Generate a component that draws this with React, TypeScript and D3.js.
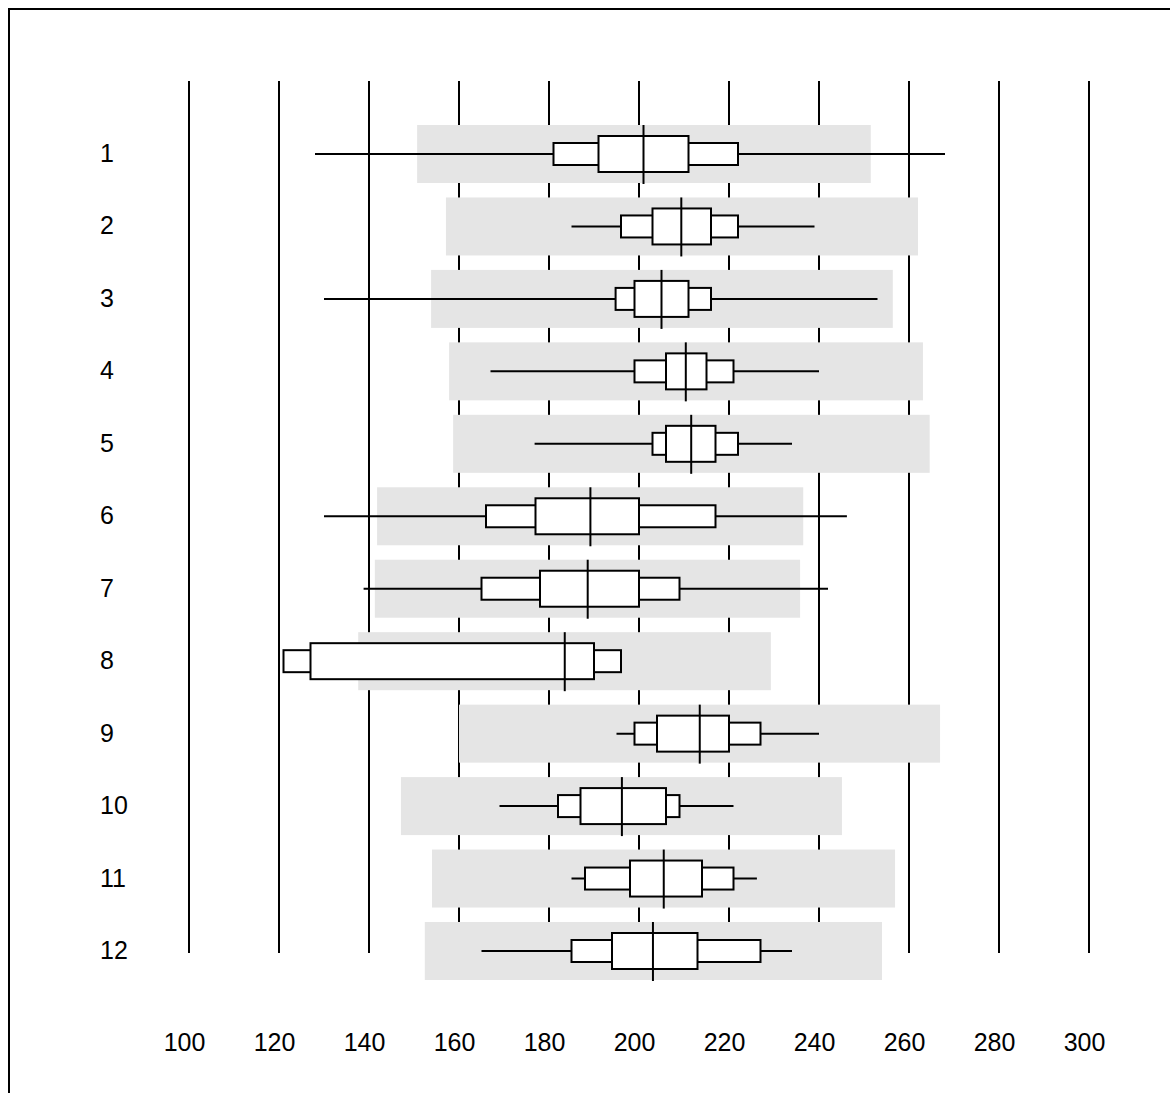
import React, { useEffect, useRef } from "react";
import * as d3 from "d3";

// Row labels and x ticks
const rowLabels = ["1", "2", "3", "4", "5", "6", "7", "8", "9", "10", "11", "12"];
const xTicks = [100, 120, 140, 160, 180, 200, 220, 240, 260, 280, 300];

// per-row values
const whiskerLow = [128, 185, 130, 167, 176.8, 130, 138.8, 121, 195, 169, 185, 165];
const outerLow = [181, 196, 194.8, 199, 203, 166, 165, 121, 199, 182, 188, 185];
const innerLow = [191, 203, 199, 206, 206, 177, 178, 127, 204, 187, 198, 194];
const medians = [201, 209.4, 205, 210.4, 211.6, 189.2, 188.6, 183.5, 213.5, 196.2, 205.5, 203.1];
const innerHigh = [211, 216, 211, 215, 217, 200, 200, 190, 220, 206, 214, 213];
const outerHigh = [222, 222, 216, 221, 222, 217, 209, 196, 227, 209, 221, 227];
const whiskerHigh = [268, 239, 253, 240, 234, 246.2, 242, 196, 240, 221, 226.2, 234];
const bandLow = [150.7, 157.1, 153.8, 157.8, 158.7, 141.8, 141.3, 137.6, 160, 147.1, 154, 152.4];
const bandHigh = [251.5, 262, 256.4, 263.1, 264.6, 236.5, 235.8, 229.3, 266.9, 245.1, 256.9, 254];

export default function App() {
  const ref = useRef<SVGSVGElement | null>(null);

  useEffect(() => {
    const svg = d3.select(ref.current);
    svg.selectAll("*").remove();

    const font = "'Liberation Sans', Arial, sans-serif";
    const rows = rowLabels.map((label, i) => ({
      label,
      wl: whiskerLow[i],
      ol: outerLow[i],
      il: innerLow[i],
      med: medians[i],
      ih: innerHigh[i],
      oh: outerHigh[i],
      wh: whiskerHigh[i],
      bl: bandLow[i],
      bh: bandHigh[i],
    }));

    const x = d3.scaleLinear().domain([100, 300]).range([189, 1089]);
    const y = d3.scalePoint<string>().domain(rowLabels).range([154, 951]);

    const bandH = 58;
    const innerH = 36;
    const outerH = 22;

    // frame (right and bottom edges fall outside the picture)
    svg
      .append("rect")
      .attr("x", 9)
      .attr("y", 9)
      .attr("width", 1300)
      .attr("height", 1300)
      .attr("fill", "none")
      .attr("stroke", "#000")
      .attr("stroke-width", 2);

    // vertical grid
    svg
      .append("g")
      .selectAll("line")
      .data(xTicks)
      .join("line")
      .attr("x1", (d) => x(d))
      .attr("x2", (d) => x(d))
      .attr("y1", 81)
      .attr("y2", 953)
      .attr("stroke", "#000")
      .attr("stroke-width", 2);

    svg
      .append("g")
      .selectAll("text")
      .data(xTicks)
      .join("text")
      .attr("x", (d) => x(d) - 4.5)
      .attr("y", 1050.5)
      .attr("text-anchor", "middle")
      .attr("font-family", font)
      .attr("font-size", 25)
      .text((d) => d);

    svg
      .append("g")
      .selectAll("text")
      .data(rowLabels)
      .join("text")
      .attr("x", 100)
      .attr("y", (d) => y(d)! + 8)
      .attr("font-family", font)
      .attr("font-size", 25)
      .text((d) => d);

    const g = svg.append("g").selectAll("g").data(rows).join("g");

    g.append("rect")
      .attr("x", (d) => x(d.bl))
      .attr("y", (d) => y(d.label)! - bandH / 2)
      .attr("width", (d) => x(d.bh) - x(d.bl))
      .attr("height", bandH)
      .attr("fill", "#e5e5e5");

    g.append("line")
      .attr("x1", (d) => x(d.wl))
      .attr("x2", (d) => x(d.wh))
      .attr("y1", (d) => y(d.label)!)
      .attr("y2", (d) => y(d.label)!)
      .attr("stroke", "#000")
      .attr("stroke-width", 2);

    g.append("rect")
      .attr("x", (d) => x(d.ol))
      .attr("y", (d) => y(d.label)! - outerH / 2)
      .attr("width", (d) => x(d.oh) - x(d.ol))
      .attr("height", outerH)
      .attr("fill", "#fff")
      .attr("stroke", "#000")
      .attr("stroke-width", 2);

    g.append("rect")
      .attr("x", (d) => x(d.il))
      .attr("y", (d) => y(d.label)! - innerH / 2)
      .attr("width", (d) => x(d.ih) - x(d.il))
      .attr("height", innerH)
      .attr("fill", "#fff")
      .attr("stroke", "#000")
      .attr("stroke-width", 2);

    g.append("line")
      .attr("x1", (d) => x(d.med))
      .attr("x2", (d) => x(d.med))
      .attr("y1", (d) => y(d.label)! - bandH / 2)
      .attr("y2", (d) => y(d.label)! + bandH / 2 + 1)
      .attr("stroke", "#000")
      .attr("stroke-width", 2);
  }, []);

  return (
    <svg
      ref={ref}
      width={1170}
      height={1093}
      style={{ position: "absolute", left: 0, top: 0, background: "#fff" }}
    />
  );
}
